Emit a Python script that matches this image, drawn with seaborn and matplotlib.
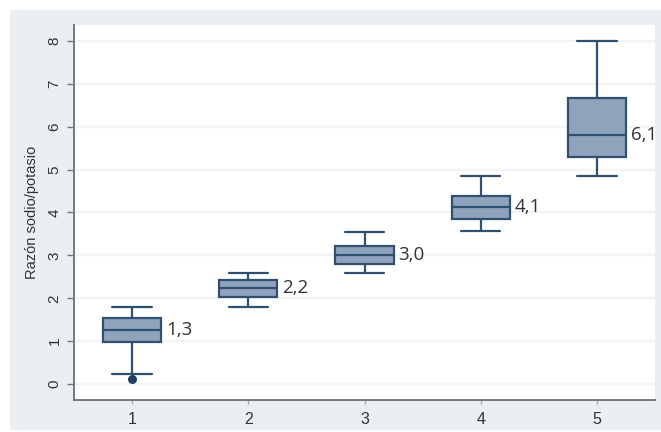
import matplotlib
matplotlib.use("Agg")
import matplotlib.pyplot as plt
import seaborn as sns
import pandas as pd
from matplotlib.patches import Rectangle

# ---- data ----
groups = ["1", "2", "3", "4", "5"]
whisker_low = [0.23, 1.80, 2.60, 3.57, 4.84]
q1 = [0.99, 2.03, 2.79, 3.86, 5.30]
median = [1.27, 2.23, 3.02, 4.12, 5.81]
q3 = [1.53, 2.42, 3.23, 4.38, 6.68]
whisker_high = [1.80, 2.60, 3.55, 4.84, 8.00]
outlier_group = ["1"]
outlier_value = [0.13]
median_labels = ["1,3", "2,2", "3,0", "4,1", "6,1"]
y_ticks = [0, 1, 2, 3, 4, 5, 6, 7, 8]
y_label = "Razón sodio/potasio"

rows = []
for g, a, b, c, d, e in zip(groups, whisker_low, q1, median, q3, whisker_high):
    for v in (a, b, c, d, e):
        rows.append({"grupo": g, "razon": v})
df = pd.DataFrame(rows)
df_out = pd.DataFrame({"grupo": outlier_group, "razon": outlier_value})

sns.set_theme(style="white")
plt.rcParams["font.family"] = ["Liberation Sans", "DejaVu Sans"]

fig = plt.figure(figsize=(6.61, 4.32), dpi=100)
fig.patch.set_facecolor("white")
fig.patches.append(Rectangle((10 / 661, 2 / 432), 651 / 661, 420 / 432,
                             transform=fig.transFigure, facecolor="#e9eff3",
                             edgecolor="none", zorder=-10))
ax = fig.add_axes([74 / 661, 32 / 432, 581 / 661, 375 / 432])
ax.set_zorder(1)
ax.set_facecolor("white")

fill = "#8fa3bd"
edge = "#30506f"
sns.boxplot(data=df, x="grupo", y="razon", order=groups, whis=(0, 100),
            width=0.5, color=fill, linecolor=edge, linewidth=1.6,
            showfliers=False, ax=ax, zorder=3,
            boxprops=dict(facecolor=fill, edgecolor=edge),
            capwidths=0.34)
sns.stripplot(data=df_out, x="grupo", y="razon", order=groups, jitter=False,
              color="#1f3f63", size=6.5, ax=ax, zorder=5)

for i, (m, lab) in enumerate(zip(median, median_labels)):
    ax.text(i + 0.29, m, lab, ha="left", va="center", fontsize=13.5,
            family=["Open Sans", "DejaVu Sans"], color="#333333", zorder=6)

ax.set_xlim(-0.5, 4.5)
ax.set_ylim(-0.37, 8.37)
ax.set_yticks(y_ticks)
ax.set_yticklabels([str(t) for t in y_ticks], rotation=90, va="center")
ax.yaxis.grid(True, color="#f1f3f5", linewidth=1.6, zorder=0)
ax.set_axisbelow(True)
ax.set_xlabel("")
ax.set_ylabel(y_label, fontsize=10.5, color="#333333", labelpad=6)
ax.tick_params(axis="y", length=5, width=1, color="#777777", labelsize=11,
               labelcolor="#333333", left=True, pad=4)
ax.tick_params(axis="x", length=3, width=1, color="#aaaaaa", labelsize=11.5,
               labelcolor="#333333", bottom=True, pad=6)
for s in ("top", "right"):
    ax.spines[s].set_visible(False)
for s in ("left", "bottom"):
    ax.spines[s].set_color("#777777")
    ax.spines[s].set_linewidth(1.4)

fig.savefig("out.png", dpi=100)
